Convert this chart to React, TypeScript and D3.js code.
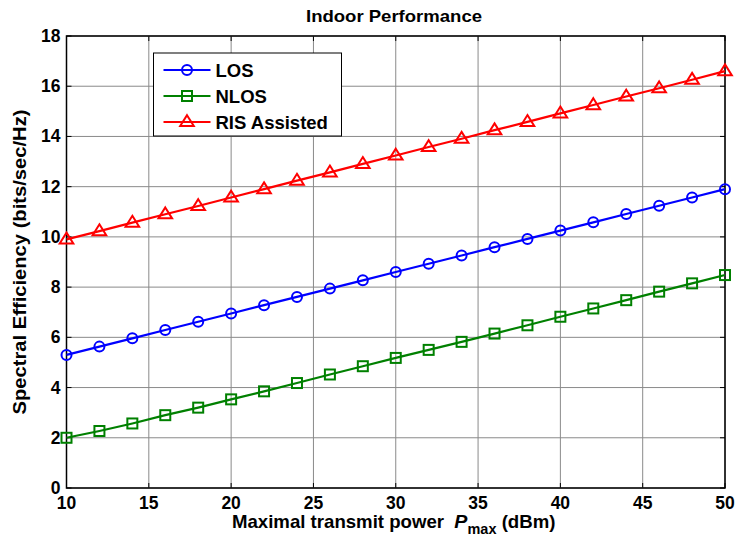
import React from 'react';
import * as d3 from 'd3';

const power = [10, 12, 14, 16, 18, 20, 22, 24, 26, 28, 30, 32, 34, 36, 38, 40, 42, 44, 46, 48, 50];
const losValues = [5.3, 5.63, 5.96, 6.29, 6.62, 6.95, 7.28, 7.61, 7.94, 8.27, 8.6, 8.93, 9.26, 9.59, 9.92, 10.25, 10.58, 10.91, 11.24, 11.57, 11.9];
const nlosValues = [2.0, 2.27, 2.57, 2.9, 3.2, 3.53, 3.85, 4.18, 4.52, 4.85, 5.18, 5.5, 5.82, 6.15, 6.48, 6.82, 7.15, 7.48, 7.82, 8.15, 8.48];
const risValues = [9.9, 10.23, 10.57, 10.9, 11.23, 11.57, 11.9, 12.24, 12.57, 12.91, 13.24, 13.58, 13.91, 14.25, 14.58, 14.92, 15.25, 15.59, 15.92, 16.26, 16.6];
const xTicks = [10, 15, 20, 25, 30, 35, 40, 45, 50];
const yTicks = [0, 2, 4, 6, 8, 10, 12, 14, 16, 18];

const seriesList = [
  { name: 'LOS', values: losValues, color: '#0000ff', marker: 'circle' },
  { name: 'NLOS', values: nlosValues, color: '#008000', marker: 'square' },
  { name: 'RIS Assisted', values: risValues, color: '#ff0000', marker: 'triangle' },
];

const margin = { top: 36, right: 12, bottom: 56, left: 66.5 };
const width = 737;
const height = 544;
const innerW = width - margin.left - margin.right;
const innerH = height - margin.top - margin.bottom;
const font = 'Liberation Sans, Arial, sans-serif';

function Marker({ kind, x, y, color }: { kind: string; x: number; y: number; color: string }) {
  if (kind === 'circle') return <circle cx={x} cy={y} r={5} fill="none" stroke={color} strokeWidth={2} />;
  if (kind === 'square') return <rect x={x - 5} y={y - 5} width={10} height={10} fill="none" stroke={color} strokeWidth={2} />;
  const s = 6.8;
  return <path d={`M${x},${y - s}L${x + s},${y + s * 0.6}L${x - s},${y + s * 0.6}Z`} fill="none" stroke={color} strokeWidth={2} />;
}

export default function App() {
  const x = d3.scaleLinear().domain([10, 50]).range([0, innerW]);
  const y = d3.scaleLinear().domain([0, 18]).range([innerH, 0]);
  const line = d3.line<number>().x((_, i) => x(power[i])).y(d => y(d));

  return (
    <svg width={width} height={height} style={{ position: 'absolute', left: 0, top: 0, background: '#fff' }} fontFamily={font}>
      <text x={394} y={22} textAnchor="middle" fontSize={17} fontWeight="bold" textLength={176} lengthAdjust="spacingAndGlyphs">Indoor Performance</text>
      <g transform={`translate(${margin.left},${margin.top})`}>
        {xTicks.map(t => (
          <g key={'x' + t}>
            <line x1={x(t)} x2={x(t)} y1={0} y2={innerH} stroke="#8a8a8a" strokeWidth={1} />
            <line x1={x(t)} x2={x(t)} y1={innerH} y2={innerH - 5} stroke="#000" />
            <line x1={x(t)} x2={x(t)} y1={0} y2={5} stroke="#000" />
            <text x={x(t)} y={innerH + 21} textAnchor="middle" fontSize={17.5} fontWeight="bold">{t}</text>
          </g>
        ))}
        {yTicks.map(t => (
          <g key={'y' + t}>
            <line x1={0} x2={innerW} y1={y(t)} y2={y(t)} stroke="#8a8a8a" strokeWidth={1} />
            <line x1={0} x2={5} y1={y(t)} y2={y(t)} stroke="#000" />
            <line x1={innerW} x2={innerW - 5} y1={y(t)} y2={y(t)} stroke="#000" />
            <text x={-6} y={y(t) + 6} textAnchor="end" fontSize={17.5} fontWeight="bold">{t}</text>
          </g>
        ))}
        <rect x={0} y={0} width={innerW} height={innerH} fill="none" stroke="#000" strokeWidth={1.5} />
        {seriesList.map(s => (
          <g key={s.name}>
            <path d={line(s.values) || ''} fill="none" stroke={s.color} strokeWidth={2.2} />
            {s.values.map((v, i) => (
              <Marker key={i} kind={s.marker} x={x(power[i])} y={y(v)} color={s.color} />
            ))}
          </g>
        ))}
        <g transform="translate(87,17)">
          <rect x={0} y={0} width={188} height={83} fill="#fff" stroke="#000" strokeWidth={1} />
          {seriesList.map((s, i) => (
            <g key={s.name} transform={`translate(0,${17 + i * 26})`}>
              <line x1={10} x2={57} y1={0} y2={0} stroke={s.color} strokeWidth={2.2} />
              <Marker kind={s.marker} x={33.5} y={0} color={s.color} />
              <text x={62} y={6.5} fontSize={18.5} fontWeight="bold">{s.name}</text>
            </g>
          ))}
        </g>
      </g>
      <g transform="translate(232,528) scale(1.035,1)">
        <text x={0} y={0} fontSize={18} fontWeight="bold">
          Maximal transmit power{'\u00a0\u00a0'}<tspan fontStyle="italic" fontSize={19}>P</tspan>
          <tspan fontSize={14} dy={6}>max</tspan>
          <tspan dy={-6}>{'\u00a0'}(dBm)</tspan>
        </text>
      </g>
      <text transform={`translate(26,${margin.top + innerH / 2}) rotate(-90)`} textAnchor="middle" fontSize={18} fontWeight="bold" textLength={305} lengthAdjust="spacingAndGlyphs">
        Spectral Efficiency (bits/sec/Hz)
      </text>
    </svg>
  );
}
